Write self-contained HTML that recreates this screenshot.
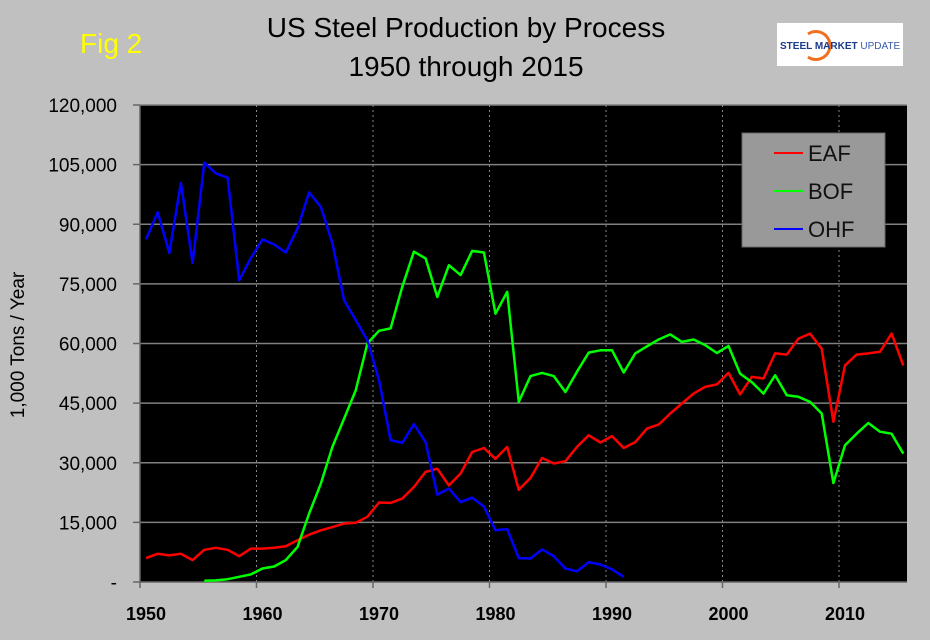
<!DOCTYPE html>
<html><head><meta charset="utf-8"><style>
body{margin:0;background:#c0c0c0;}
svg{display:block;font-family:"Liberation Sans",sans-serif;}
</style></head><body>
<svg id="chart" width="930" height="640" viewBox="0 0 930 640">
<rect x="0" y="0" width="930" height="640" fill="#c0c0c0"/>
<text x="466" y="37" font-size="28" text-anchor="middle" fill="#000">US Steel Production by Process</text>
<text x="466" y="76" font-size="28" text-anchor="middle" fill="#000">1950 through 2015</text>
<text x="80" y="53" font-size="28" fill="#ffff00">Fig 2</text>
<g>
<rect x="777" y="23" width="126" height="43" fill="#fff"/>
<path d="M808 34 A14 14 0 1 1 808 57" fill="none" stroke="#f07020" stroke-width="3"/>
<text x="780" y="49" font-size="10" font-weight="bold" fill="#1a3a8a">STEEL <tspan font-weight="bold">MARKET</tspan> <tspan font-weight="normal" fill="#3a5aaa">UPDATE</tspan></text>
</g>
<rect x="140" y="105" width="767" height="477" fill="#000"/>
<g id="grid"></g>
<g id="axes"></g>
<g id="series"></g>
<text transform="translate(24,345) rotate(-90)" font-size="19" text-anchor="middle" fill="#000">1,000 Tons / Year</text>
<g>
<rect x="742" y="133" width="143" height="114" fill="#999" stroke="#666" stroke-width="1"/>
<line x1="774" y1="153" x2="803" y2="153" stroke="#ff0000" stroke-width="2"/>
<text x="808" y="161" font-size="22" fill="#111">EAF</text>
<line x1="774" y1="191" x2="803" y2="191" stroke="#00ff00" stroke-width="2"/>
<text x="808" y="199" font-size="22" fill="#111">BOF</text>
<line x1="774" y1="229" x2="803" y2="229" stroke="#0000ff" stroke-width="2"/>
<text x="808" y="237" font-size="22" fill="#111">OHF</text>
</g>
</svg>
<script>
const eafStart = 1950;
const eafValues = [6,7.1,6.7,7.1,5.5,8.1,8.6,8.1,6.5,8.4,8.4,8.6,9,10.5,11.9,13,13.8,14.7,14.9,16.4,20,19.9,21,23.9,27.7,28.5,24.3,27.3,32.7,33.7,31,34,23.2,26.2,31.2,29.8,30.4,34,36.9,35.1,36.7,33.7,35.2,38.6,39.6,42.4,44.9,47.4,49.1,49.7,52.6,47.2,51.6,51.2,57.5,57.2,61.2,62.5,58.7,40.3,54.5,57.2,57.5,57.9,62.5,54.5];
const bofStart = 1955;
const bofValues = [0.3,0.4,0.7,1.3,1.9,3.4,3.9,5.5,8.8,17.2,24.7,34,41.1,48.2,60,63.2,63.8,74.3,83.1,81.4,71.7,79.7,77.2,83.3,82.9,67.5,73,45.3,51.8,52.6,51.8,47.8,52.9,57.7,58.3,58.3,52.7,57.5,59.3,61,62.3,60.4,61,59.6,57.6,59.4,52.4,50.3,47.4,52,47,46.6,45.3,42.4,24.9,34.4,37.3,40,37.8,37.3,32.3];
const ohfStart = 1950;
const ohfValues = [86.2,93,82.8,100.4,80.3,105.5,102.8,101.7,75.9,81.5,86.2,84.9,82.9,88.9,98,94.4,85.2,70.9,65.9,60.8,50.8,35.7,35,39.7,35.2,22,23.5,20.1,21.2,19,13,13.3,6,5.9,8.2,6.5,3.4,2.7,5,4.4,3.2,1.3];
const yTicks = [0,15000,30000,45000,60000,75000,90000,105000,120000];
const yTickLabels = ["-","15,000","30,000","45,000","60,000","75,000","90,000","105,000","120,000"];
const xTickYears = [1950,1960,1970,1980,1990,2000,2010];
const xTickLabels = ["1950","1960","1970","1980","1990","2000","2010"];

const NS="http://www.w3.org/2000/svg";
const L=140,R=907,T=105,B=582;
function yScale(v){return B-(v/120000)*(B-T);}
function xScale(yr){return 146+(yr-1950)*11.65;}
function gridX(yr){return 140+(yr-1950)*11.65;}
function mk(tag,attrs,parent){const e=document.createElementNS(NS,tag);for(const k in attrs)e.setAttribute(k,attrs[k]);parent.appendChild(e);return e;}
const grid=document.getElementById('grid'),axes=document.getElementById('axes'),series=document.getElementById('series');
yTicks.forEach((t,i)=>{
  const y=yScale(t);
  if(t>0){const g=mk('line',{x1:L,x2:R,y1:y,y2:y,stroke:'#808080','stroke-width':1.5},grid);
  
  }
  const tk=mk('line',{x1:133,x2:L,y1:y,y2:y,stroke:'#666','stroke-width':1.5},axes);
  
  
  const tx=mk('text',{x:117,y:y+7,'font-size':19,'text-anchor':'end',fill:'#000'},axes);
  tx.textContent=yTickLabels[i];
  
  
});
xTickYears.forEach((yr,i)=>{
  const x=gridX(yr);
  if(i>0){const g=mk('line',{x1:x,x2:x,y1:T,y2:B,stroke:'#888','stroke-width':1,'stroke-dasharray':'2,3'},grid);
  
  }
  const tk=mk('line',{x1:x,x2:x,y1:B,y2:B+6,stroke:'#666','stroke-width':1.5},axes);
  
  
  const tx=mk('text',{x:x+6,y:620,'font-size':18,'font-weight':'bold','text-anchor':'middle',fill:'#000'},axes);
  tx.textContent=xTickLabels[i];
  
  
});
mk('line',{x1:L,x2:R,y1:B,y2:B,stroke:'#666','stroke-width':1.5},axes);
mk('line',{x1:L,x2:L,y1:T,y2:B,stroke:'#666','stroke-width':1.5},axes);
function drawSeries(start,vals,color,name){
  const pts=vals.map((v,i)=>xScale(start+i).toFixed(1)+','+yScale(v*1000).toFixed(1)).join(' ');
  const p=mk('polyline',{points:pts,fill:'none',stroke:color,'stroke-width':2.5,'stroke-linejoin':'round'},series);
  
  
}
drawSeries(eafStart,eafValues,'#ff0000','eaf-line');
drawSeries(bofStart,bofValues,'#00ff00','bof-line');
drawSeries(ohfStart,ohfValues,'#0000ff','ohf-line');
</script>
</body></html>
